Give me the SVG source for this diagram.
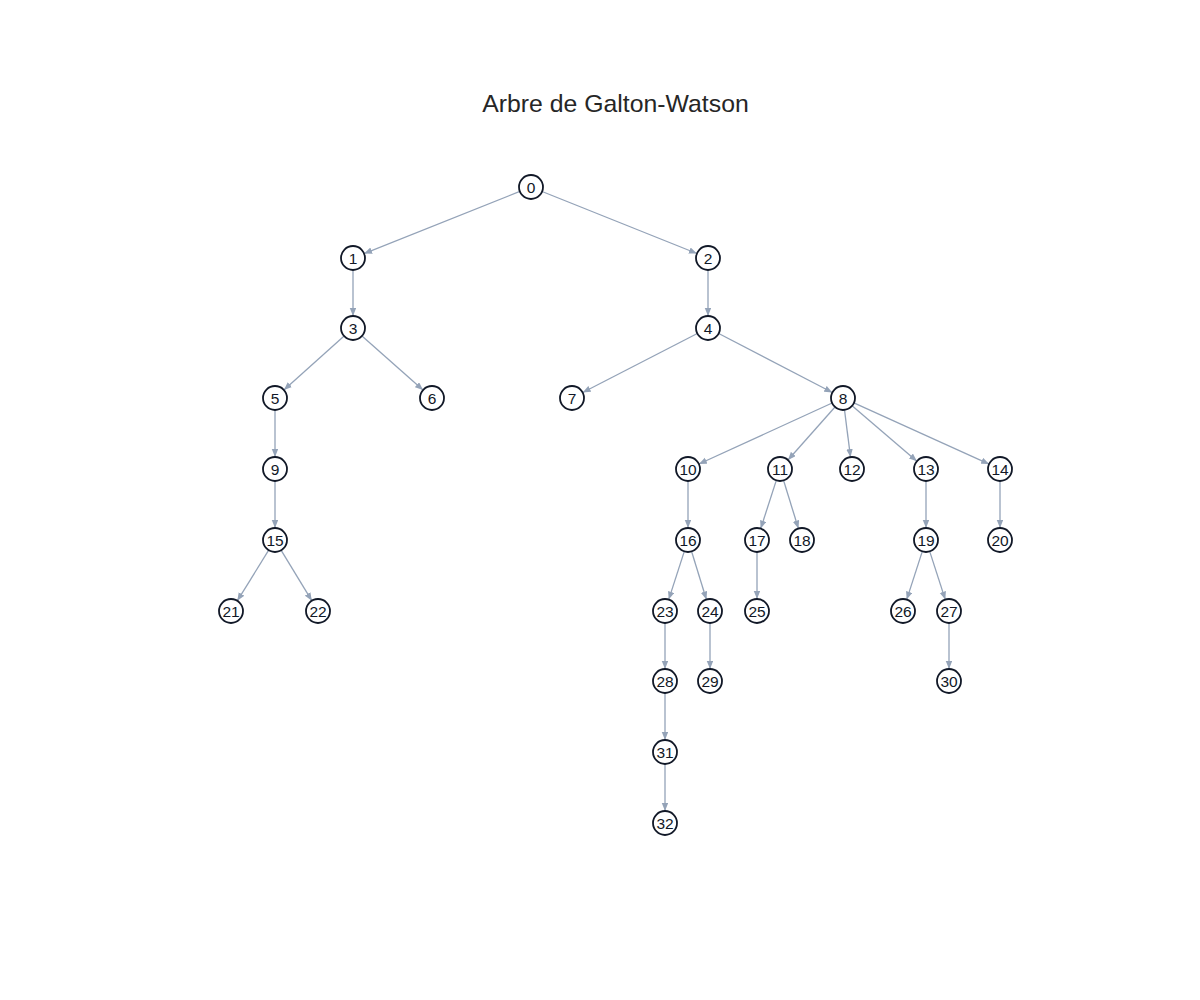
<svg xmlns="http://www.w3.org/2000/svg" width="1200" height="1000" viewBox="0 0 1200 1000">
<style>
.edge{stroke:#94a3b8;stroke-width:1.3;fill:none;marker-end:url(#arr)}
.node circle{fill:#ffffff;stroke:#111827;stroke-width:1.8}
.node text{font-family:"Liberation Sans",Arial,sans-serif;font-size:15.5px;fill:#111827;text-anchor:middle}
.title{font-family:"Liberation Sans",Arial,sans-serif;font-size:24.8px;fill:#262626;text-anchor:middle}
</style>
<defs>
<marker id="arr" markerUnits="userSpaceOnUse" markerWidth="8" markerHeight="7" refX="8" refY="3.25" orient="auto">
<path d="M0,0 L8,3.25 L0,6.5 z" fill="#94a3b8"/>
</marker>
</defs>
<rect width="1200" height="1000" fill="#ffffff"/>
<text class="title" x="615.5" y="112">Arbre de Galton-Watson</text>
<g id="edges">
<line class="edge" x1="519.9" y1="191.4" x2="364.1" y2="253.6"/>
<line class="edge" x1="542.1" y1="191.5" x2="696.9" y2="253.5"/>
<line class="edge" x1="353" y1="270" x2="353" y2="316"/>
<line class="edge" x1="708" y1="270" x2="708" y2="316"/>
<line class="edge" x1="344.1" y1="336" x2="283.9" y2="390"/>
<line class="edge" x1="362" y1="336" x2="423" y2="390"/>
<line class="edge" x1="697.3" y1="333.5" x2="582.7" y2="392.5"/>
<line class="edge" x1="718.7" y1="333.5" x2="832.3" y2="392.5"/>
<line class="edge" x1="275" y1="410" x2="275" y2="457"/>
<line class="edge" x1="832.1" y1="403" x2="698.9" y2="464"/>
<line class="edge" x1="835" y1="407" x2="788" y2="460"/>
<line class="edge" x1="844.5" y1="409.9" x2="850.5" y2="457.1"/>
<line class="edge" x1="852.1" y1="405.8" x2="916.9" y2="461.2"/>
<line class="edge" x1="853.9" y1="402.9" x2="989.1" y2="464.1"/>
<line class="edge" x1="275" y1="481" x2="275" y2="528"/>
<line class="edge" x1="688" y1="481" x2="688" y2="528"/>
<line class="edge" x1="776.3" y1="480.4" x2="760.7" y2="528.6"/>
<line class="edge" x1="783.6" y1="480.5" x2="798.4" y2="528.5"/>
<line class="edge" x1="926" y1="481" x2="926" y2="528"/>
<line class="edge" x1="1000" y1="481" x2="1000" y2="528"/>
<line class="edge" x1="268.7" y1="550.2" x2="237.3" y2="600.8"/>
<line class="edge" x1="281.2" y1="550.3" x2="311.8" y2="600.7"/>
<line class="edge" x1="684.3" y1="551.4" x2="668.7" y2="599.6"/>
<line class="edge" x1="691.6" y1="551.5" x2="706.4" y2="599.5"/>
<line class="edge" x1="757" y1="552" x2="757" y2="599"/>
<line class="edge" x1="922.3" y1="551.4" x2="906.7" y2="599.6"/>
<line class="edge" x1="929.7" y1="551.4" x2="945.3" y2="599.6"/>
<line class="edge" x1="665" y1="623" x2="665" y2="669"/>
<line class="edge" x1="710" y1="623" x2="710" y2="669"/>
<line class="edge" x1="949" y1="623" x2="949" y2="669"/>
<line class="edge" x1="665" y1="693" x2="665" y2="740"/>
<line class="edge" x1="665" y1="764" x2="665" y2="811"/>
</g>
<g id="n0" class="node"><circle cx="531" cy="187" r="12"/><text x="531" y="192.5">0</text></g>
<g id="n1" class="node"><circle cx="353" cy="258" r="12"/><text x="353" y="263.5">1</text></g>
<g id="n2" class="node"><circle cx="708" cy="258" r="12"/><text x="708" y="263.5">2</text></g>
<g id="n3" class="node"><circle cx="353" cy="328" r="12"/><text x="353" y="333.5">3</text></g>
<g id="n4" class="node"><circle cx="708" cy="328" r="12"/><text x="708" y="333.5">4</text></g>
<g id="n5" class="node"><circle cx="275" cy="398" r="12"/><text x="275" y="403.5">5</text></g>
<g id="n6" class="node"><circle cx="432" cy="398" r="12"/><text x="432" y="403.5">6</text></g>
<g id="n7" class="node"><circle cx="572" cy="398" r="12"/><text x="572" y="403.5">7</text></g>
<g id="n8" class="node"><circle cx="843" cy="398" r="12"/><text x="843" y="403.5">8</text></g>
<g id="n9" class="node"><circle cx="275" cy="469" r="12"/><text x="275" y="474.5">9</text></g>
<g id="n10" class="node"><circle cx="688" cy="469" r="12"/><text x="688" y="474.5">10</text></g>
<g id="n11" class="node"><circle cx="780" cy="469" r="12"/><text x="780" y="474.5">11</text></g>
<g id="n12" class="node"><circle cx="852" cy="469" r="12"/><text x="852" y="474.5">12</text></g>
<g id="n13" class="node"><circle cx="926" cy="469" r="12"/><text x="926" y="474.5">13</text></g>
<g id="n14" class="node"><circle cx="1000" cy="469" r="12"/><text x="1000" y="474.5">14</text></g>
<g id="n15" class="node"><circle cx="275" cy="540" r="12"/><text x="275" y="545.5">15</text></g>
<g id="n16" class="node"><circle cx="688" cy="540" r="12"/><text x="688" y="545.5">16</text></g>
<g id="n17" class="node"><circle cx="757" cy="540" r="12"/><text x="757" y="545.5">17</text></g>
<g id="n18" class="node"><circle cx="802" cy="540" r="12"/><text x="802" y="545.5">18</text></g>
<g id="n19" class="node"><circle cx="926" cy="540" r="12"/><text x="926" y="545.5">19</text></g>
<g id="n20" class="node"><circle cx="1000" cy="540" r="12"/><text x="1000" y="545.5">20</text></g>
<g id="n21" class="node"><circle cx="231" cy="611" r="12"/><text x="231" y="616.5">21</text></g>
<g id="n22" class="node"><circle cx="318" cy="611" r="12"/><text x="318" y="616.5">22</text></g>
<g id="n23" class="node"><circle cx="665" cy="611" r="12"/><text x="665" y="616.5">23</text></g>
<g id="n24" class="node"><circle cx="710" cy="611" r="12"/><text x="710" y="616.5">24</text></g>
<g id="n25" class="node"><circle cx="757" cy="611" r="12"/><text x="757" y="616.5">25</text></g>
<g id="n26" class="node"><circle cx="903" cy="611" r="12"/><text x="903" y="616.5">26</text></g>
<g id="n27" class="node"><circle cx="949" cy="611" r="12"/><text x="949" y="616.5">27</text></g>
<g id="n28" class="node"><circle cx="665" cy="681" r="12"/><text x="665" y="686.5">28</text></g>
<g id="n29" class="node"><circle cx="710" cy="681" r="12"/><text x="710" y="686.5">29</text></g>
<g id="n30" class="node"><circle cx="949" cy="681" r="12"/><text x="949" y="686.5">30</text></g>
<g id="n31" class="node"><circle cx="665" cy="752" r="12"/><text x="665" y="757.5">31</text></g>
<g id="n32" class="node"><circle cx="665" cy="823" r="12"/><text x="665" y="828.5">32</text></g>
</svg>
